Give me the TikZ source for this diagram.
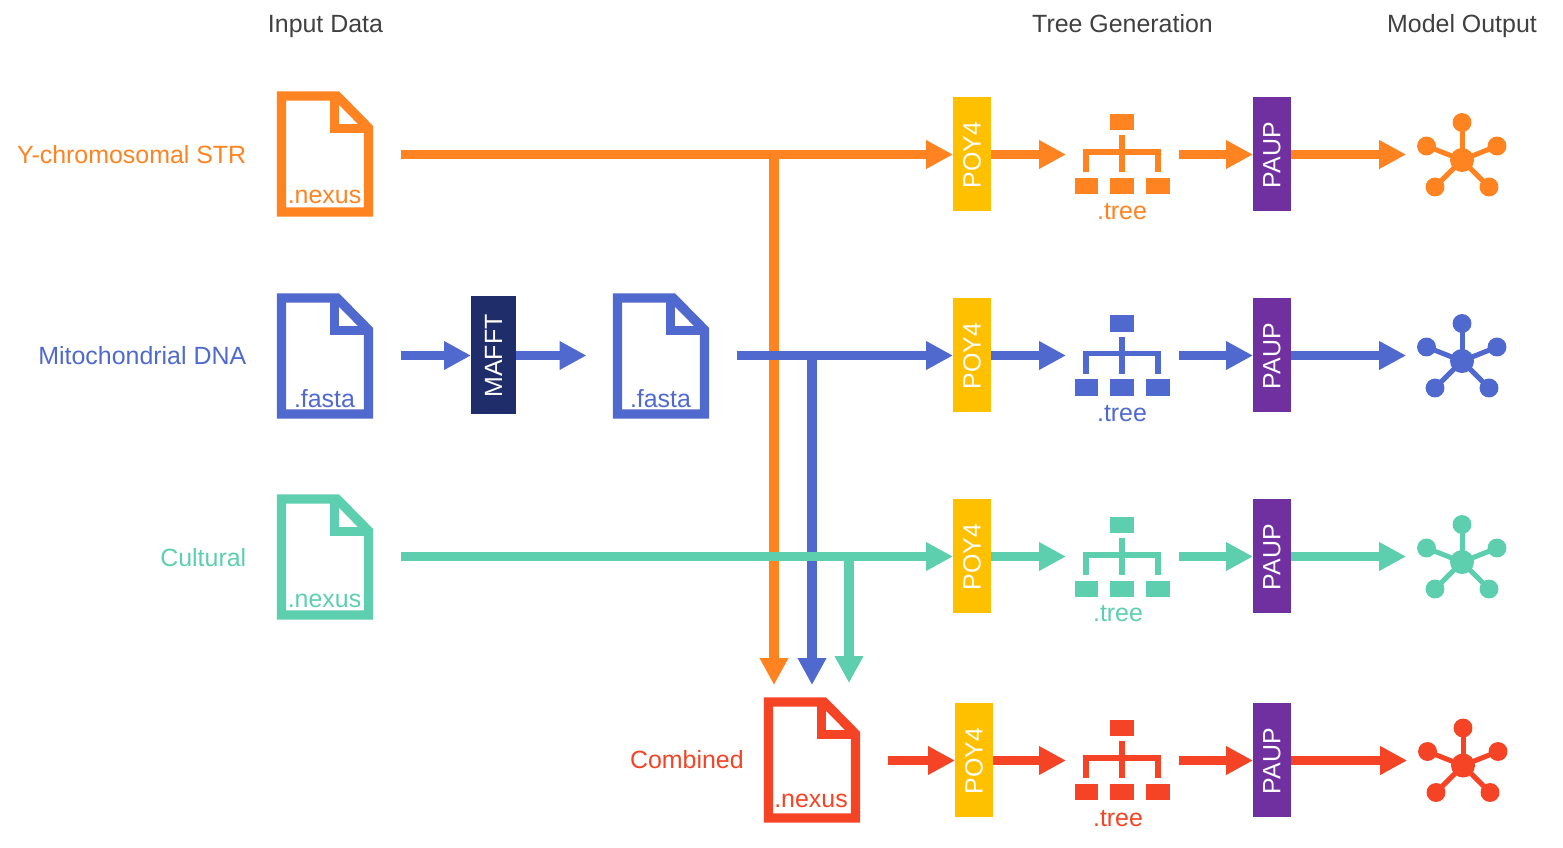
\documentclass[tikz,border=0pt]{standalone}
\usepackage{fontspec}
\usepackage{graphicx}
\setmainfont{Liberation Sans}
\usetikzlibrary{arrows.meta}
\definecolor{corange}{HTML}{FF8321}
\definecolor{cblue}{HTML}{5069CF}
\definecolor{cgreen}{HTML}{5DCFAF}
\definecolor{cred}{HTML}{F44425}
\definecolor{cyellow}{HTML}{FFC000}
\definecolor{cpurple}{HTML}{7030A0}
\definecolor{cnavy}{HTML}{1F2D6B}
\definecolor{cgrey}{HTML}{404040}
\tikzset{
  x=0.75pt,y=-0.75pt,
  txt/.style={font=\fontsize{18.7pt}{20pt}\selectfont,inner sep=0pt},
  heading/.style={txt,text=cgrey,anchor=base},
  rowlabel/.style={txt,anchor=base east},
  extlabel/.style={txt,anchor=base},
  flow/.style={line width=7pt,-{Triangle[length=20.25pt,width=20.25pt]}},
  holder/.style={inner sep=0pt,outer sep=0pt},
  toolbox/.style={inner sep=0pt,outer sep=0pt,minimum width=28.5pt,minimum height=85.5pt,text=white,txt},
}
\newcommand{\docicon}[8]{% name, dx, dy, node y, colour, label, label baseline, label x shift
  \begin{scope}[shift={(#2,#3)}]
    \draw[#5,line width=7.1pt,miter limit=4] (281.5,96) -- (337,96) -- (368.5,128) -- (368.5,212) -- (281.5,212) -- cycle;
    \draw[#5,line width=7.1pt] (334.5,96) -- (334.5,128.5) -- (368.5,128.5);
  \end{scope}
  \node[extlabel,text=#5] at (325+#2+#8,#7) {#6};
  \node[holder,minimum width=72.75pt,minimum height=93.75pt] (#1) at (325+#2,#4) {};
}
\newcommand{\treeicon}[6]{% name, dy, label x, label baseline, node y, colour
  \begin{scope}[shift={(0,#2)}]
    \fill[#6] (1110,113.5) rectangle (1134,130);
    \fill[#6] (1074.5,177.5) rectangle (1098,194);
    \fill[#6] (1110,177.5) rectangle (1134,194);
    \fill[#6] (1146,177.5) rectangle (1170,194);
    \draw[#6,line width=3.9pt] (1122,135) -- (1122,172);
    \draw[#6,line width=3.9pt] (1086,172) -- (1086,152) -- (1158,152) -- (1158,172);
  \end{scope}
  \node[extlabel,text=#6] at (#3,#4) {.tree};
  \node[holder,minimum width=72pt,minimum height=60pt] (#1) at (1122,#5) {};
}
\newcommand{\neticon}[5]{% name, dx, dy, node y, colour
  \begin{scope}[shift={(#2,#3)}]
    \foreach \a/\b in {1462/122.5,1426.5/146,1497/146,1435/187,1489/187}{
      \draw[#5,line width=3.75pt] (1462,160) -- (\a,\b);
      \fill[#5] (\a,\b) circle (7.1pt);
    }
    \fill[#5] (1462,160) circle (9pt);
  \end{scope}
  \node[holder,minimum width=68pt,minimum height=62pt] (#1) at (1461.5+#2,#4) {};
}
\newcommand{\rottext}[1]{\rotatebox{90}{\raisebox{-1.6pt}{#1}\hspace{1.5pt}}}
\newcommand{\toolnode}[5]{% name, x, y, fill, text
  \node[toolbox,fill=#4] (#1) at (#2,#3) {\rottext{#5}};
}
\begin{document}
\begin{tikzpicture}
\useasboundingbox (0,0) rectangle (1563,847);
% headings
\node[heading] (h1) at (325.5,32) {Input Data};
\node[heading] (h2) at (1122.5,32) {Tree Generation};
\node[heading] (h3) at (1462,32) {Model Output};
% row labels
\node[rowlabel,text=corange] (l1) at (246.5,163) {Y-chromosomal STR};
\node[rowlabel,text=cblue] (l2) at (246.5,364) {Mitochondrial DNA};
\node[rowlabel,text=cgreen] (l3) at (246.5,566) {Cultural};
\node[rowlabel,text=cred] (l4) at (744,768) {Combined};
% icons
\docicon{d1}{0}{0}{154.5}{corange}{.nexus}{203}{-0.5}
\docicon{d2}{0}{202}{355.5}{cblue}{.fasta}{407}{-0.5}
\docicon{d2b}{336}{202}{355.5}{cblue}{.fasta}{407}{-0.5}
\docicon{d3}{0}{403}{556.5}{cgreen}{.nexus}{607}{-0.5}
\docicon{d4}{487}{606}{760.5}{cred}{.nexus}{807.5}{-1}
\treeicon{t1}{0}{1122}{219}{154.5}{corange}
\treeicon{t2}{201.5}{1122}{421}{355.5}{cblue}
\treeicon{t3}{403}{1118}{621}{556.5}{cgreen}
\treeicon{t4}{606}{1118}{826}{760.5}{cred}
\neticon{n1}{0}{0}{154.5}{corange}
\neticon{n2}{0}{201}{355.5}{cblue}
\neticon{n3}{0}{402}{556.5}{cgreen}
\neticon{n4}{1}{605.5}{760.5}{cred}
% tools
\node[toolbox,fill=cnavy,minimum width=33.75pt,minimum height=88.5pt] (m) at (493.5,355) {\rottext{MAFFT}};
\toolnode{p1}{972}{154}{cyellow}{POY4}
\toolnode{p2}{972}{355}{cyellow}{POY4}
\toolnode{p3}{972}{556}{cyellow}{POY4}
\toolnode{p4}{974}{760}{cyellow}{POY4}
\toolnode{q1}{1272}{154}{cpurple}{PAUP}
\toolnode{q2}{1272}{355}{cpurple}{PAUP}
\toolnode{q3}{1272}{556}{cpurple}{PAUP}
\toolnode{q4}{1272}{760}{cpurple}{PAUP}
% junctions and free ends
\coordinate (j1) at (774,154.5);
\coordinate (j2) at (812,355.5);
\coordinate (j3) at (849,556.5);
\coordinate (e1) at (774,685);
\coordinate (e2) at (812,685);
\coordinate (e3) at (849,683);
% connectors
\draw[flow,corange] (j1) -- (e1);
\draw[flow,cblue] (j2) -- (e2);
\draw[flow,cgreen] (j3) -- (e3);
\draw[flow,corange,shorten <=20.25pt] (d1.east) -- (d1.east -| p1.west);
\draw[flow,cblue,shorten <=20.25pt] (d2.east) -- (d2.east -| m.west);
\draw[flow,cblue,shorten >=19.5pt] (m.east |- d2b.west) -- (d2b.west);
\draw[flow,cblue,shorten <=20.25pt] (d2b.east) -- (d2b.east -| p2.west);
\draw[flow,cgreen,shorten <=20.25pt] (d3.east) -- (d3.east -| p3.west);
\draw[flow,cred,shorten <=20.25pt] (d4.east) -- (d4.east -| p4.west);
\foreach \i/\c in {1/corange,2/cblue,3/cgreen,4/cred}{
  \draw[flow,\c,shorten >=6pt] (p\i.east |- t\i.west) -- (t\i.west);
  \draw[flow,\c,shorten <=6.75pt] (t\i.east) -- (t\i.east -| q\i.west);
  \draw[flow,\c,shorten >=7.5pt] (q\i.east |- n\i.west) -- (n\i.west);
}
\end{tikzpicture}
\end{document}
